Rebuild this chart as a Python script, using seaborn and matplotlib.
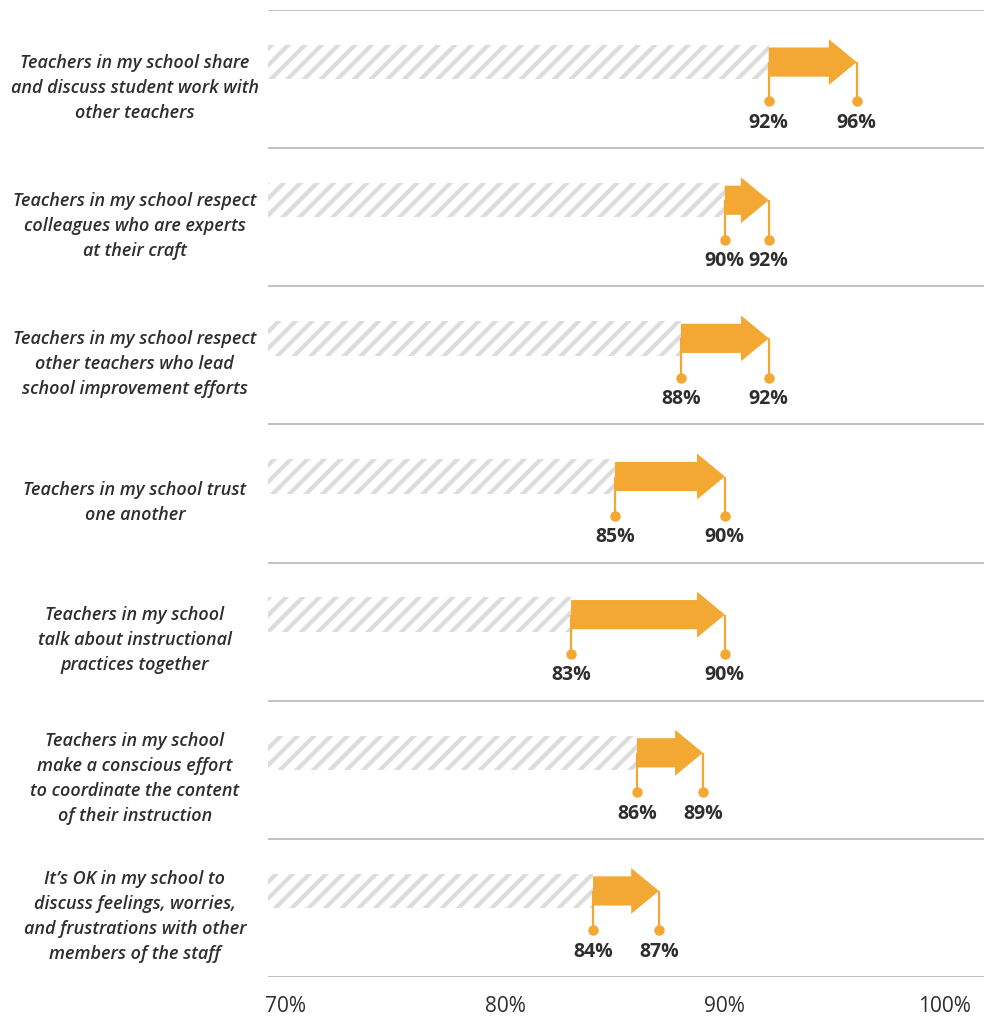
import matplotlib
matplotlib.use("Agg")
import matplotlib.pyplot as plt
import seaborn as sns
import pandas as pd
from matplotlib.patches import FancyArrowPatch

items = [
    "Teachers in my school share\nand discuss student work with\nother teachers",
    "Teachers in my school respect\ncolleagues who are experts\nat their craft",
    "Teachers in my school respect\nother teachers who lead\nschool improvement efforts",
    "Teachers in my school trust\none another",
    "Teachers in my school\ntalk about instructional\npractices together",
    "Teachers in my school\nmake a conscious effort\nto coordinate the content\nof their instruction",
    "It\u2019s OK in my school to\ndiscuss feelings, worries,\nand frustrations with other\nmembers of the staff",
]
start_vals = [92, 90, 88, 85, 83, 86, 84]
end_vals = [96, 92, 92, 90, 90, 89, 87]
tick_vals = [70, 80, 90, 100]
tick_labels = ["70%", "80%", "90%", "100%"]

ORANGE = "#F3A833"
TEXT = "#2e2e2e"
GRID = "#bdbdbd"

sns.set_style("white")
plt.rcParams["font.family"] = ["Open Sans", "DejaVu Sans"]
plt.rcParams["hatch.linewidth"] = 3.0

fig = plt.figure(figsize=(9.84, 10.19), dpi=100)
ax = fig.add_axes([268 / 984, 1 - 977 / 1019, 1 - 268 / 984, (977 - 10) / 1019])

df = pd.DataFrame({"item": items, "start": start_vals, "end": end_vals})

sns.barplot(data=df, x="start", y="item", orient="h", ax=ax, width=0.25,
            color="white", edgecolor="#dcdcdc", linewidth=0, hatch="//")
for p in ax.patches:
    p.set_facecolor("none")
    p.set_edgecolor("#dcdcdc")
    p.set_linewidth(0)

for i, (s, e) in enumerate(zip(start_vals, end_vals)):
    arr = FancyArrowPatch((s, i), (e, i), arrowstyle="simple,head_length=20,head_width=33,tail_width=21",
                          mutation_scale=1, shrinkA=0, shrinkB=0, color=ORANGE, lw=0, zorder=4)
    ax.add_patch(arr)
    for v in (s, e):
        ax.plot([v, v], [i, i + 0.285], color=ORANGE, lw=1.6, zorder=3, solid_capstyle="butt")
        ax.plot([v], [i + 0.285], "o", color=ORANGE, ms=6.5, zorder=5)
        ax.text(v, i + 0.44, f"{v}%", ha="center", va="center", fontsize=14,
                fontweight="bold", color=TEXT)
    ax.text(-0.186, i + 0.185, items[i], transform=ax.get_yaxis_transform(),
            ha="center", va="center", fontsize=13, fontstyle="italic",
            fontweight="semibold", color=TEXT, linespacing=1.5)

for k in range(len(items) + 1):
    ax.axhline(k - 0.377, color=GRID, lw=1.3, zorder=1)

ax.set_xlim(69.2, 101.8)
ax.set_ylim(len(items) - 0.377, -0.377)
ax.set_yticks([])
ax.set_ylabel("")
ax.set_xlabel("")
ax.set_xticks(tick_vals)
ax.set_xticklabels(tick_labels, fontsize=15, color=TEXT)
ax.tick_params(axis="x", length=0, pad=14)
sns.despine(ax=ax, left=True, bottom=True, top=True, right=True)

fig.savefig("out.png", dpi=100)
